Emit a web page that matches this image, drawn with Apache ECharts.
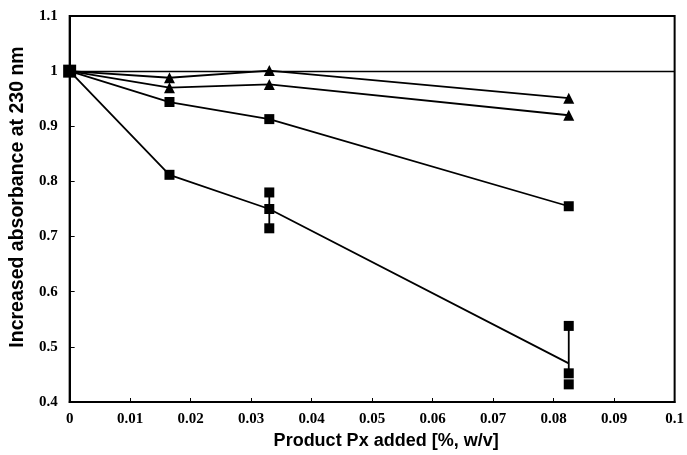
<!DOCTYPE html>
<html>
<head>
<meta charset="utf-8">
<script src="https://cdn.jsdelivr.net/npm/echarts@6/dist/echarts.min.js"></script>
<style>html,body{margin:0;padding:0;background:#fff}#c{width:687px;height:455px}</style>
</head>
<body>
<div id="c"></div>
<script>
// Data
const xValues = [0, 0.0165, 0.033, 0.0825];
const seriesA = [1.0, 0.988, 1.001, 0.951];   // filled triangles (top)
const seriesB = [1.0, 0.970, 0.976, 0.920];   // filled triangles
const seriesC = [1.0, 0.944, 0.913, 0.755];   // squares
const seriesD = [1.0, 0.812, 0.750, 0.470];   // squares, mean line
const repX = [0.033, 0.033, 0.033, 0.0825, 0.0825, 0.0825];
const repY = [0.780, 0.750, 0.715, 0.538, 0.452, 0.432];
const errX = [0.033, 0.0825];
const errLo = [0.715, 0.452];
const errHi = [0.780, 0.538];
const xTicks = [0, 0.01, 0.02, 0.03, 0.04, 0.05, 0.06, 0.07, 0.08, 0.09, 0.1];
const yTicks = [0.4, 0.5, 0.6, 0.7, 0.8, 0.9, 1, 1.1];

const pair = (ys) => xValues.map((x, i) => [x, ys[i]]);
const lineStyle = { color: '#000', width: 1.8 };
const black = { color: '#000', opacity: 1 };

const chart = echarts.init(document.getElementById('c'), null, { renderer: 'canvas' });

const series = [
  {
    type: 'line', data: pair(seriesA), symbol: 'triangle', symbolSize: 11,
    lineStyle, itemStyle: black, z: 3,
    markLine: {
      silent: true, symbol: 'none', label: { show: false },
      lineStyle: { color: '#000', width: 1.3, type: 'solid' },
      data: [{ yAxis: 1.0 }]
    }
  },
  { type: 'line', data: pair(seriesB), symbol: 'triangle', symbolSize: 11, lineStyle, itemStyle: black, z: 3 },
  { type: 'line', data: pair(seriesC), symbol: 'rect', symbolSize: 10, lineStyle, itemStyle: black, z: 3 },
  {
    type: 'line',
    data: pair(seriesD).map((p, i) => ({ value: p, symbol: i < 2 ? 'rect' : 'none' })),
    symbol: 'rect', symbolSize: 10, lineStyle, itemStyle: black, z: 3
  },
  {
    type: 'scatter', data: repX.map((x, i) => [x, repY[i]]), symbol: 'rect', symbolSize: 10,
    itemStyle: black, z: 4
  }
];
errX.forEach((x, i) => {
  series.push({
    type: 'line', data: [[x, errLo[i]], [x, errHi[i]]], symbol: 'none',
    lineStyle: { color: '#000', width: 1.8 }, z: 2
  });
});
// big marker at origin
series.push({ type: 'scatter', data: [[xValues[0], seriesA[0]]], symbol: 'rect', symbolSize: 13, itemStyle: black, z: 5 });

chart.setOption({
  animation: false,
  backgroundColor: '#fff',
  grid: { left: 69, right: 10, top: 16, bottom: 48, show: true, borderColor: '#000', borderWidth: 2 },
  xAxis: {
    type: 'value', min: 0, max: 0.1, interval: 0.01,
    name: 'Product Px added [%, w/v]', nameLocation: 'middle', nameGap: 30,
    nameTextStyle: { fontFamily: 'Liberation Sans', fontWeight: 'bold', fontSize: 18, color: '#000', padding: [0, 0, 0, 28] },
    axisLine: { show: true, lineStyle: { color: '#000', width: 2 } },
    axisTick: { show: true, inside: true, length: 4, lineStyle: { color: '#000' } },
    axisLabel: { fontFamily: 'Liberation Serif', fontWeight: 'bold', fontSize: 15, color: '#000', margin: 10,
      formatter: (v) => String(+v.toFixed(2)) },
    splitLine: { show: false }
  },
  yAxis: {
    type: 'value', min: 0.4, max: 1.1, interval: 0.1,
    name: 'Increased absorbance at 230 nm', nameLocation: 'middle', nameGap: 40,
    nameTextStyle: { fontFamily: 'Liberation Sans', fontWeight: 'bold', fontSize: 19.5, color: '#000', padding: [0, 0, 0, 24] },
    axisLine: { show: true, lineStyle: { color: '#000', width: 2 } },
    axisTick: { show: true, inside: true, length: 5, lineStyle: { color: '#000' } },
    axisLabel: { fontFamily: 'Liberation Serif', fontWeight: 'bold', fontSize: 15, color: '#000', margin: 12,
      formatter: (v) => String(+v.toFixed(1)) },
    splitLine: { show: false }
  },
  series
});
</script>
</body>
</html>
